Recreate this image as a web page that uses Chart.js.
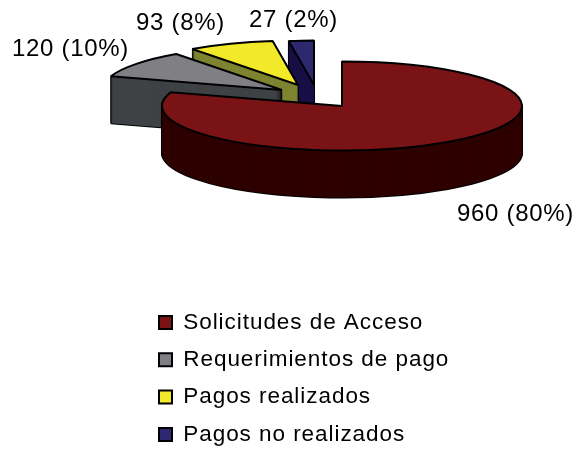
<!DOCTYPE html>
<html>
<head>
<meta charset="utf-8">
<style>html,body{margin:0;padding:0;background:#fff}canvas{display:block}</style>
<script src="https://cdn.jsdelivr.net/npm/chart.js@4/dist/chart.umd.min.js"></script>
</head>
<body>
<canvas id="c" width="579" height="449"></canvas>
<script>
const categories = ['Solicitudes de Acceso', 'Requerimientos de pago', 'Pagos realizados', 'Pagos no realizados'];
const values = [960, 120, 93, 27];
const topColors = ['#7A1316', '#808084', '#F2E928', '#2D2870'];
const sideColors = ['#2E0000', '#3F4245', '#7E8430', '#170F45'];

const FONT = '"Liberation Sans", Arial, sans-serif';
const view = {cx: 342, cy: 106, radius: 180, squash: 0.247, depth: 47};
const explode = [[0, 0], [-60, -16], [-44, -21], [-28, -21]];
const drawOrder = [3, 2, 1, 0];
const labelAnchors = [[457, 221], [12, 56], [136, 30], [249, 27]];
const legendBox = {x: 159, y: 322.5, pitch: 37.3, font: 22.5};

const pie3d = {
  id: 'pie3d',
  afterLayout(chart) {
    const lg = chart.legend, p = lg.options.labels.padding;
    lg.left = legendBox.x - p;
    lg.right = chart.width;
    lg.top = legendBox.y - legendBox.font / 2 - p;
    lg.bottom = lg.top + lg.height;
  },
  beforeDraw(chart) {
    chart.ctx.letterSpacing = '0.95px';
  },
  beforeDatasetsDraw(chart) {
    const ctx = chart.ctx, arcs = chart.getDatasetMeta(0).data;
    const flat = function () {
      ctx.save();
      ctx.setTransform(1, 0, 0, 1, 0, 0);
      CanvasRenderingContext2D.prototype.stroke.call(ctx);
      ctx.restore();
    };
    ctx.stroke = flat;
    const layer = (i, lift, fill, border) => {
      const el = arcs[i], copy = Object.create(el);
      copy.options = Object.assign({}, el.options, {backgroundColor: fill, borderColor: '#000', borderWidth: border});
      ctx.save();
      ctx.translate(view.cx + explode[i][0], view.cy + explode[i][1] + lift);
      ctx.scale(1, view.squash);
      ctx.translate(-el.x, -el.y);
      copy.draw(ctx);
      ctx.restore();
    };
    drawOrder.forEach(i => {
      for (let d = view.depth; d >= 1; d--) layer(i, d, '#000', 2);
      for (let d = view.depth; d >= 1; d--) layer(i, d, sideColors[i], 0);
      layer(i, 0, topColors[i], 2);
    });
    delete ctx.stroke;
    return false;
  },
  afterDraw(chart) {
    const ctx = chart.ctx, total = values.reduce((a, b) => a + b, 0);
    ctx.save();
    ctx.letterSpacing = '0.7px';
    ctx.font = '24px ' + FONT;
    ctx.fillStyle = '#000';
    ctx.textAlign = 'left';
    ctx.textBaseline = 'alphabetic';
    values.forEach((v, i) => {
      ctx.fillText(v + ' (' + Math.round(v / total * 100) + '%)', labelAnchors[i][0], labelAnchors[i][1]);
    });
    ctx.restore();
  }
};

new Chart(document.getElementById('c'), {
  type: 'pie',
  data: {
    labels: categories,
    datasets: [{data: values, backgroundColor: topColors, borderColor: '#000', borderWidth: 2}]
  },
  plugins: [pie3d],
  options: {
    responsive: false,
    animation: false,
    radius: view.radius,
    plugins: {
      tooltip: {enabled: false},
      legend: {
        position: 'left',
        align: 'start',
        labels: {
          boxWidth: 13,
          boxHeight: 13,
          padding: legendBox.pitch - legendBox.font,
          color: '#000',
          font: {family: FONT, size: legendBox.font}
        }
      }
    }
  }
});
</script>
</body>
</html>
